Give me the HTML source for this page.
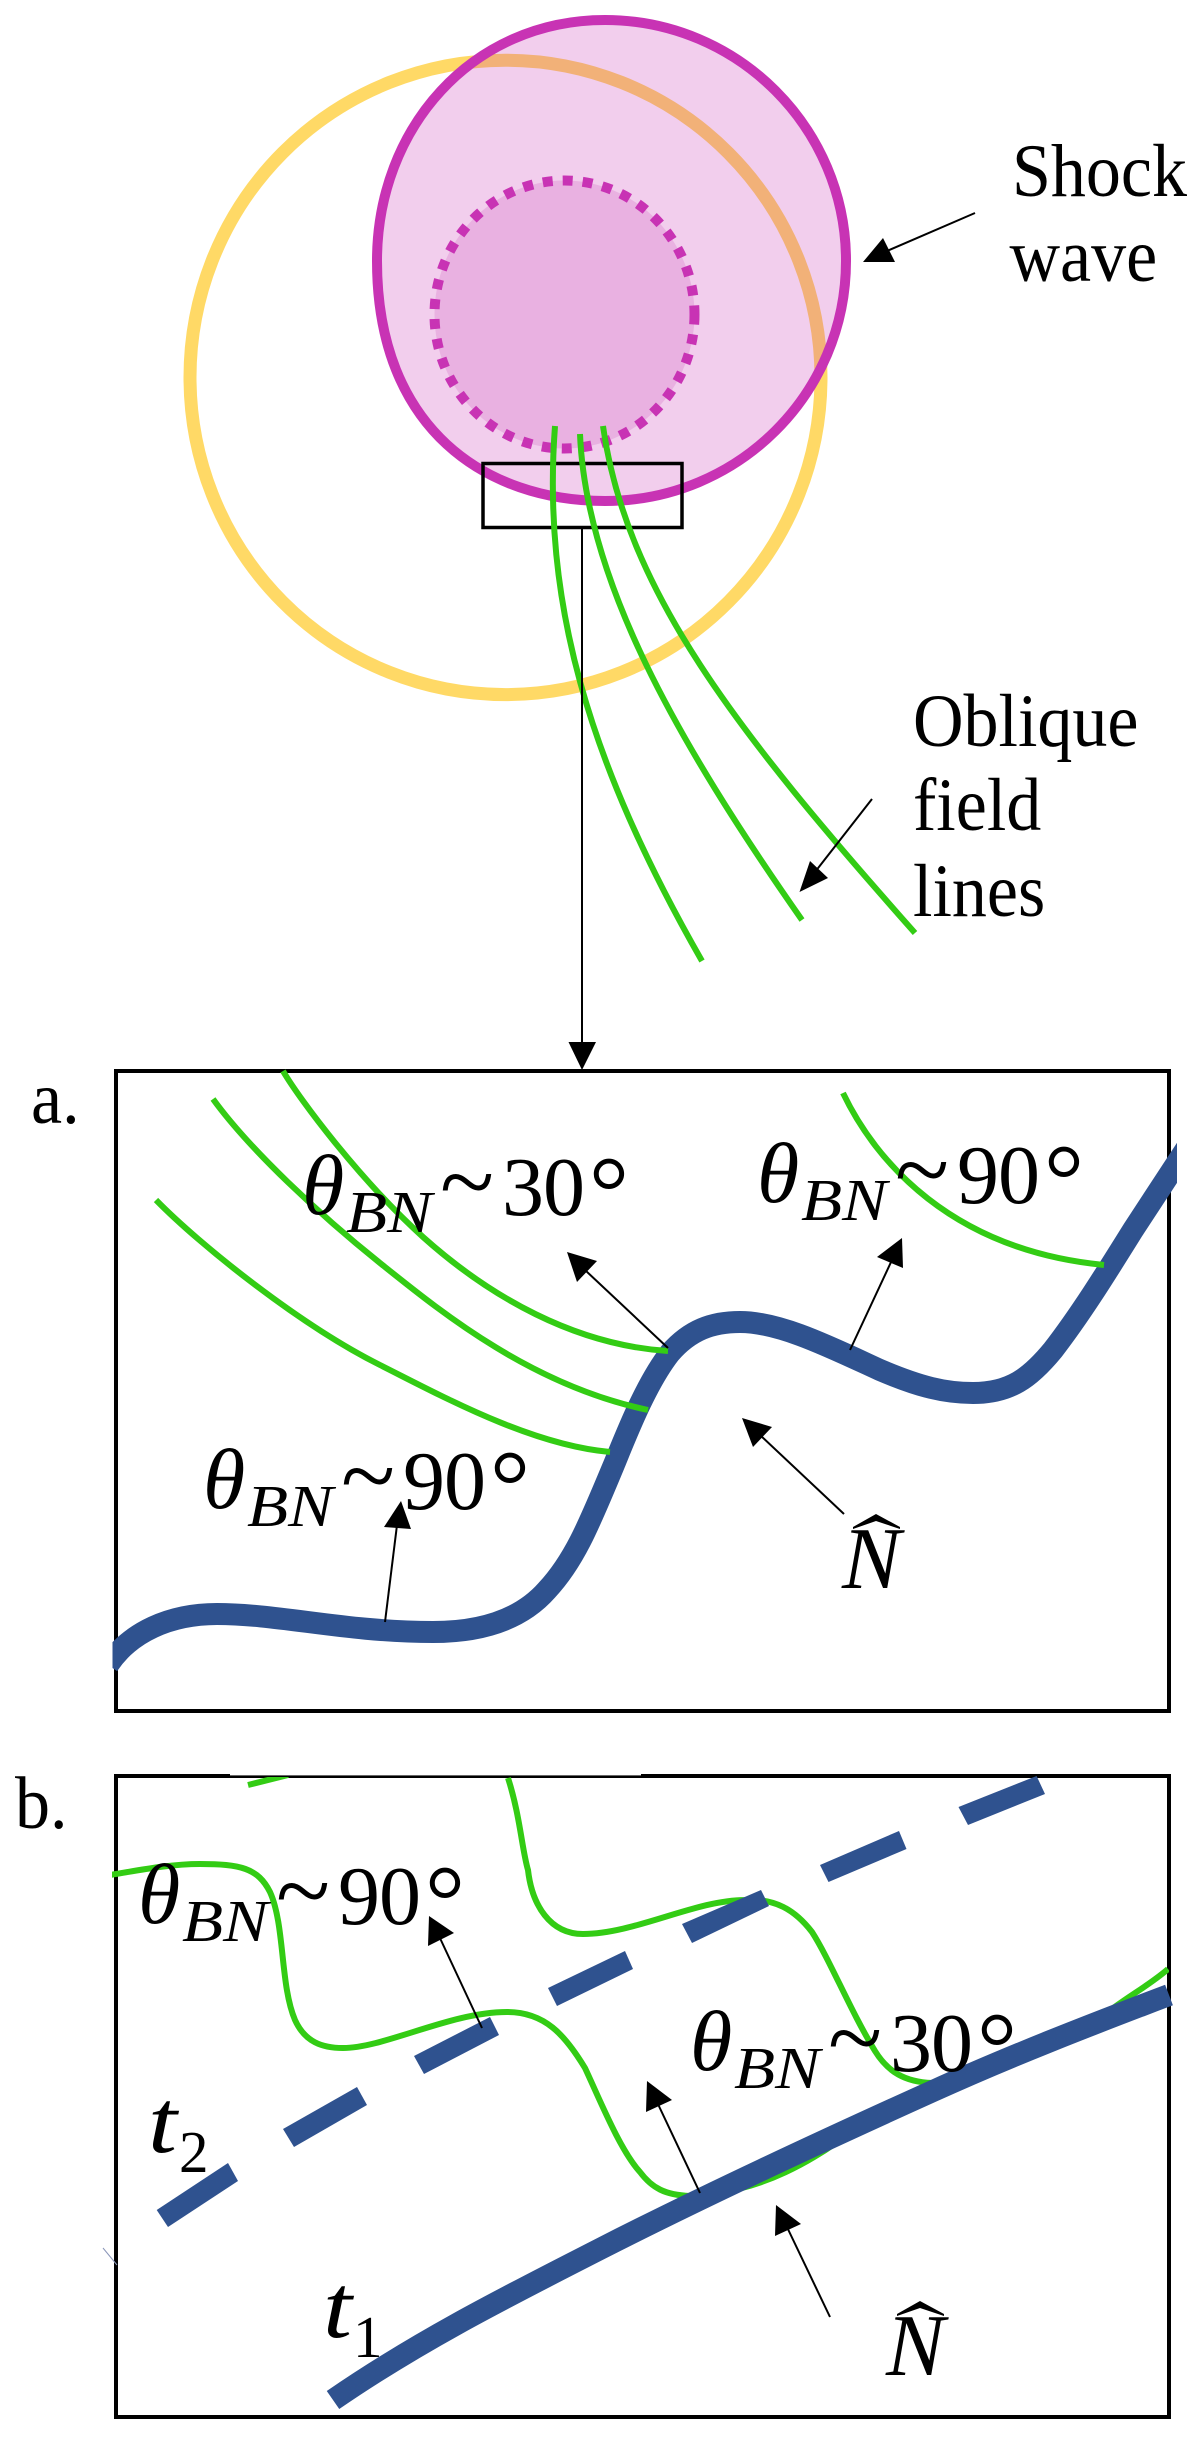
<!DOCTYPE html>
<html>
<head>
<meta charset="utf-8">
<style>
html,body{margin:0;padding:0;background:#fff;width:1200px;height:2441px;overflow:hidden}
svg{display:block}
text{font-family:"Liberation Serif",serif;fill:#000}
.it{font-style:italic}
.g{fill:none;stroke:#33CC14;stroke-width:6}
.a{stroke:#000;stroke-width:2;fill:none}
.h{fill:#000;stroke:none}
.bl{fill:none;stroke:#2F528F;stroke-width:22}
</style>
</head>
<body>
<svg width="1200" height="2441" viewBox="0 0 1200 2441" xmlns="http://www.w3.org/2000/svg">
<defs>
<clipPath id="ca"><rect x="112.5" y="1071" width="1064.5" height="640"/></clipPath>
<clipPath id="cb"><rect x="112" y="1777" width="1057" height="640"/></clipPath>
</defs>

<!-- top -->
<ellipse cx="505.5" cy="377.4" rx="315.5" ry="317.2" fill="none" stroke="#FFD966" stroke-width="13"/>
<path d="M605 20 C738 20 846 128 846 261 C846 394 738 501 605 501 C487 501 377 430 377 261 C377 128 472 20 605 20Z" fill="#C830B4" fill-opacity=".237"/>
<ellipse cx="564.5" cy="314.5" rx="130" ry="134" fill="#E9B1E1"/>
<ellipse cx="564.5" cy="314.5" rx="130" ry="134" fill="none" stroke="#C833B4" stroke-width="10" stroke-dasharray="10 10"/>
<path d="M605 20 C738 20 846 128 846 261 C846 394 738 501 605 501 C487 501 377 430 377 261 C377 128 472 20 605 20Z" fill="none" stroke="#C833B4" stroke-width="10"/>
<rect x="483" y="463.5" width="199" height="64" fill="none" stroke="#000" stroke-width="3.5"/>
<path class="g" d="M555 426 C542 600 587 760 702 961"/>
<path class="g" d="M580 434 C586 580 676 740 802 920"/>
<path class="g" d="M603 426 C626 590 735 730 915 933"/>
<line class="a" x1="582" y1="528" x2="582" y2="1046"/>
<polygon class="h" points="568.5,1042 596,1042 582,1070"/>
<line class="a" x1="975" y1="213" x2="880" y2="254"/>
<polygon class="h" points="863,262 883,238 895,262"/>
<line class="a" x1="872" y1="799" x2="815" y2="872"/>
<polygon class="h" points="799.5,892 810,861 828,878"/>
<text transform="translate(1012,196) scale(1,1.08)" font-size="70">Shock</text>
<text transform="translate(1009.5,281) scale(1,1.08)" font-size="70">wave</text>
<text transform="translate(913,746) scale(1,1.08)" font-size="70">Oblique</text>
<text transform="translate(913,830) scale(1,1.08)" font-size="70">field</text>
<text transform="translate(913,916) scale(1,1.08)" font-size="70">lines</text>

<!-- panel a -->
<rect x="116" y="1071" width="1053" height="640" fill="none" stroke="#000" stroke-width="4"/>
<g clip-path="url(#ca)">
<path class="bl" d="M108 1665 C130 1632 170 1614 217 1614 C280 1614 345 1632 433 1632 C490 1632 525 1615 547 1590 C575 1560 590 1522 613 1467 C625 1438 645 1385 670 1353 C690 1330 712 1322 740 1322 C780 1322 830 1347 880 1370 C920 1387 945 1393 973 1393 C1010 1393 1030 1378 1053 1350 C1080 1315 1105 1275 1133 1230 L1190 1143"/>
</g>
<path class="g" d="M283 1071 C300 1100 360 1180 423 1237 C490 1297 575 1345 668 1351"/>
<path class="g" d="M213 1099 C250 1150 320 1215 380 1263 C440 1311 530 1385 648 1410"/>
<path class="g" d="M156 1200 C200 1245 300 1325 380 1365 C440 1395 530 1445 610 1452"/>
<path class="g" d="M843 1093 C875 1160 950 1250 1104 1265"/>
<line class="a" x1="668" y1="1348" x2="585" y2="1270"/>
<polygon class="h" points="567,1252 597,1261 577,1282"/>
<line class="a" x1="850" y1="1350" x2="892" y2="1260"/>
<polygon class="h" points="902,1238 877,1257 903,1268"/>
<line class="a" x1="844" y1="1514" x2="760" y2="1435"/>
<polygon class="h" points="742,1418 772,1427 753,1447"/>
<line class="a" x1="385" y1="1622" x2="397" y2="1525"/>
<polygon class="h" points="401,1501 384,1527 411,1529"/>
<text transform="translate(31,1123) scale(1,1.06)" font-size="70">a.</text>

<g>
<text class="it" x="302" y="1214" font-size="86">θ</text>
<text class="it" x="346" y="1232" font-size="59" textLength="86" lengthAdjust="spacingAndGlyphs">BN</text>
<text x="440" y="1215" font-size="100">~</text>
<text x="502 543" y="1215" font-size="84">30</text>
<text x="589" y="1225" font-size="100">°</text>
</g>
<g transform="translate(455,-12)">
<text class="it" x="302" y="1214" font-size="86">θ</text>
<text class="it" x="346" y="1232" font-size="59" textLength="86" lengthAdjust="spacingAndGlyphs">BN</text>
<text x="440" y="1215" font-size="100">~</text>
<text x="502 543" y="1215" font-size="84">90</text>
<text x="589" y="1225" font-size="100">°</text>
</g>
<g transform="translate(-99,294)">
<text class="it" x="302" y="1214" font-size="86">θ</text>
<text class="it" x="346" y="1232" font-size="59" textLength="86" lengthAdjust="spacingAndGlyphs">BN</text>
<text x="440" y="1215" font-size="100">~</text>
<text x="502 543" y="1215" font-size="84">90</text>
<text x="589" y="1225" font-size="100">°</text>
</g>

<polygon class="h" points="853,1527 876,1514 900,1527 900,1529 876,1521 853,1529"/>
<text class="it" x="842" y="1588" font-size="88">N</text>

<!-- panel b -->
<rect x="116" y="1776" width="1053" height="641" fill="none" stroke="#000" stroke-width="4"/>
<rect x="230" y="1773" width="411" height="2.4" fill="#fff"/>
<g clip-path="url(#cb)">
<path class="g" d="M248 1785 L288 1775"/>
<path class="g" d="M110 1875 C140 1870 170 1864 200 1864 C240 1864 258 1868 270 1892 C285 1925 280 1985 295 2020 C305 2042 322 2048 343 2048 C385 2048 450 2012 507 2012 C545 2012 565 2035 585 2068 C600 2100 620 2150 640 2172 C652 2188 665 2195 690 2196"/>
<path class="g" d="M508 1778 C520 1815 522 1850 528 1870 C532 1905 550 1934 583 1934 C635 1934 695 1900 745 1900 C775 1898 795 1910 812 1932 C830 1960 850 2010 875 2051 C888 2072 905 2082 932 2083"/>
<path class="g" d="M715 2193 C760 2188 810 2165 860 2125"/>
<path class="g" d="M1100 2018 C1125 1998 1150 1985 1168 1969"/>
</g>
<path class="bl" d="M333 2400 C420 2340 510 2295 600 2249 C700 2198 820 2142 933 2091 C1010 2056 1090 2025 1169 1995"/>
<g fill="#2F528F">
<polygon points="156.7,2210 228,2163 238,2181 168,2227"/>
<polygon points="283,2129 357,2087 367,2105 294,2147"/>
<polygon points="414,2056 490,2017 499,2035 424,2074"/>
<polygon points="548,1988 625,1951 633,1969 557,2006"/>
<polygon points="682,1924 761,1890 769,1906 692,1943"/>
<polygon points="820,1865 899,1831 906.5,1849 828.5,1882"/>
<polygon points="958.5,1807 1036.6,1776 1045,1794 968,1825"/>
</g>
<line class="a" x1="482" y1="2028" x2="439" y2="1936"/>
<polygon class="h" points="429,1916 428,1946 454,1933"/>
<line class="a" x1="700" y1="2193" x2="657" y2="2102"/>
<polygon class="h" points="647,2081 646,2112 672,2100"/>
<line class="a" x1="830" y1="2317" x2="786" y2="2225"/>
<polygon class="h" points="776,2205 775,2236 801,2224"/>
<line x1="103" y1="2248" x2="117" y2="2265" stroke="#8a96b8" stroke-width="1"/>
<text transform="translate(15,1828) scale(1,1.06)" font-size="70">b.</text>

<g transform="translate(-164,709)">
<text class="it" x="302" y="1214" font-size="86">θ</text>
<text class="it" x="346" y="1232" font-size="59" textLength="86" lengthAdjust="spacingAndGlyphs">BN</text>
<text x="440" y="1215" font-size="100">~</text>
<text x="502 543" y="1215" font-size="84">90</text>
<text x="589" y="1225" font-size="100">°</text>
</g>
<g transform="translate(388,856)">
<text class="it" x="302" y="1214" font-size="86">θ</text>
<text class="it" x="346" y="1232" font-size="59" textLength="86" lengthAdjust="spacingAndGlyphs">BN</text>
<text x="440" y="1215" font-size="100">~</text>
<text x="502 543" y="1215" font-size="84">30</text>
<text x="589" y="1225" font-size="100">°</text>
</g>

<text class="it" x="148" y="2152" font-size="90" textLength="29" lengthAdjust="spacingAndGlyphs">t</text>
<text x="179" y="2172" font-size="59">2</text>
<text class="it" x="323" y="2337" font-size="90" textLength="29" lengthAdjust="spacingAndGlyphs">t</text>
<text x="353" y="2357" font-size="59">1</text>

<polygon class="h" points="897,2314 920,2301 944,2314 944,2316 920,2308 897,2316"/>
<text class="it" x="886" y="2375" font-size="88">N</text>
</svg>
</body>
</html>
